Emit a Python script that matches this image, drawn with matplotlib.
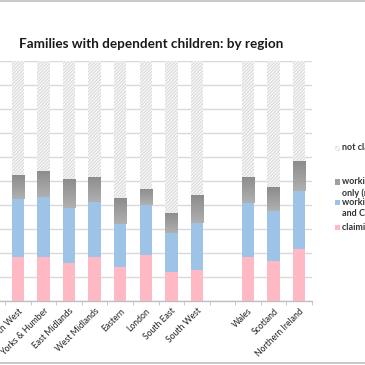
import matplotlib
matplotlib.use("Agg")
import matplotlib.pyplot as plt
from matplotlib.patches import Rectangle
from matplotlib.lines import Line2D
from matplotlib.colors import LinearSegmentedColormap
import numpy as np

plt.rcParams['font.family'] = ['Lato', 'DejaVu Sans']
plt.rcParams['hatch.linewidth'] = 0.6

regions = ["North West", "Yorks & Humber", "East Midlands", "West Midlands",
           "Eastern", "London", "South East", "South West", "",
           "Wales", "Scotland", "Northern Ireland"]
# percentages of families (stacked)
claiming_out_of_work = [18.5, 18.2, 16.0, 18.2, 14.3, 19.0, 12.1, 12.9, 0, 18.5, 16.8, 21.5]
working_wtc_ctc      = [24.0, 25.0, 22.7, 23.0, 17.9, 21.0, 16.1, 19.7, 0, 22.2, 20.8, 24.5]
working_ctc_only     = [10.0, 11.1, 12.0, 10.6, 10.6, 6.8, 8.6, 11.4, 0, 11.1, 9.9, 12.5]
legend_labels = ["not claiming tax credits", "working, claiming CTC\nonly (no WTC)",
                 "working, claiming WTC\nand CTC", "claiming out of work"]
title = "Families with dependent children: by region"

pink = "#ffb9c4"
blue = "#9dc3e6"
gray = "#a0a0a0"
hatch_face = "#f6f6f6"
hatch_col = "#d4d4d4"
gray_cmap = LinearSegmentedColormap.from_list("g", ["#b0b0b0", "#8c8c8c"])

W, H = 365, 365
fig = plt.figure(figsize=(W/100, H/100), dpi=100)
ax = fig.add_axes([0, 1-301/H, 312/W, 240/H])

x = np.arange(len(regions))
mask = np.array([r != "" for r in regions])
p = np.array(claiming_out_of_work)
b = np.array(working_wtc_ctc)
g = np.array(working_ctc_only)
nc = 100 - p - b - g
w = 0.49
xs = x[mask]
ax.bar(xs, p[mask], w, color=pink, linewidth=0, zorder=2)
ax.bar(xs, b[mask], w, bottom=p[mask], color=blue, linewidth=0, zorder=2)
gbars = ax.bar(xs, g[mask], w, bottom=(p+b)[mask], color=gray, linewidth=0, zorder=2)
ax.bar(xs, nc[mask], w, bottom=(p+b+g)[mask], color=hatch_face, edgecolor=hatch_col,
       hatch="//////////", linewidth=0, zorder=2)

grad = np.linspace(0, 1, 64).reshape(-1, 1)
for bar in gbars:
    x0, y0 = bar.get_x(), bar.get_y()
    im = ax.imshow(grad, extent=[x0, x0+bar.get_width(), y0, y0+bar.get_height()],
                   origin="lower", cmap=gray_cmap, aspect="auto", zorder=2.5)
    im.set_clip_path(bar)

ax.set_xlim(-0.7, 11.5)
ax.set_ylim(0, 100)
ax.set_yticks(np.arange(0, 101, 10))
ax.yaxis.grid(True, color="#d9d9d9", linewidth=1.0, zorder=0)
ax.set_axisbelow(True)
ax.tick_params(axis='y', left=False, labelleft=False)
for s in ["top", "right", "left"]:
    ax.spines[s].set_visible(False)
ax.spines["bottom"].set_color("#bfbfbf")
ax.spines["bottom"].set_linewidth(1.0)

ax.set_xticks(x)
ax.set_xticklabels(regions, rotation=45, ha="right", rotation_mode="anchor",
                   fontsize=6.2, color="#222222")
ax.tick_params(axis='x', length=0, pad=4)
ax.set_xticks(np.arange(-0.5, 12, 1), minor=True)
ax.tick_params(axis='x', which='minor', length=3, color="#bfbfbf")

fig.text(19/W, 1-44/H, title, fontsize=9.7, fontweight="bold", color="#1a1a1a",
         va="center", ha="left")

# legend
leg_y = [148, 182, 202, 227]
leg_cols = [hatch_face, gray, blue, pink]
for i, (yy, c, lab) in enumerate(zip(leg_y, leg_cols, legend_labels)):
    r = Rectangle((335/W, 1-(yy+2.5)/H), 5/W, 5/H, transform=fig.transFigure,
                  facecolor=c, edgecolor=hatch_col if i == 0 else c,
                  hatch="//////" if i == 0 else None, linewidth=0)
    fig.add_artist(r)
    fig.text(342/W, 1-(yy-4.5)/H, lab, fontsize=6.5, fontweight="bold", color="#333333",
             va="top", ha="left", linespacing=1.3)

fig.add_artist(Line2D([0, 1], [1-1/H, 1-1/H], transform=fig.transFigure,
                      color="#bfbfbf", linewidth=1.2))
fig.add_artist(Line2D([0, 1], [1-363/H, 1-363/H], transform=fig.transFigure,
                      color="#bfbfbf", linewidth=1.2))

fig.savefig("out.png", dpi=100)
